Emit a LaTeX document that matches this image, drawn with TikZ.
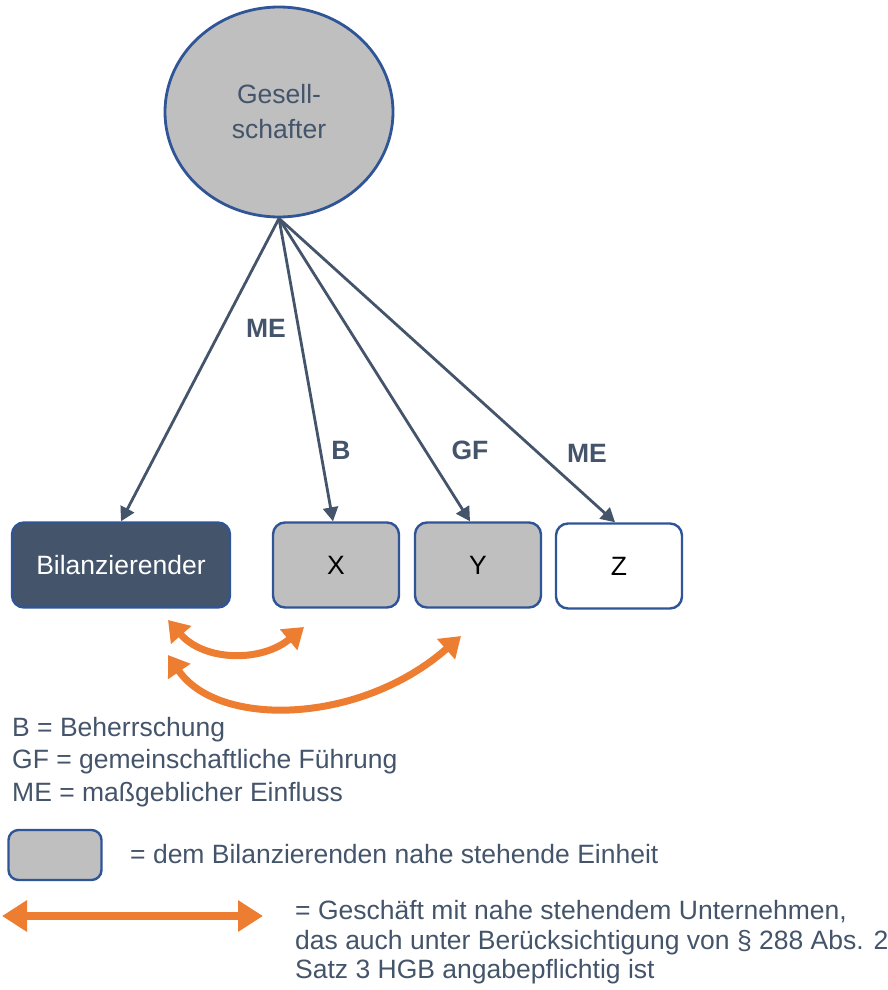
\documentclass[tikz,border=0pt]{standalone}
\usepackage{fontspec}
\setmainfont{Liberation Sans}
\usetikzlibrary{arrows.meta,calc,shapes.geometric}
\definecolor{navy}{HTML}{44546A}
\definecolor{bord}{HTML}{2F5597}
\definecolor{grayfill}{HTML}{BFBFBF}
\definecolor{orng}{HTML}{ED7D31}
\tikzset{
  box/.style={draw=bord, line width=2.4pt, rounded corners=12pt, minimum height=85pt, inner sep=0pt},
  conn/.style={draw=navy, line width=2.8pt, -{Triangle[length=14pt,width=15pt]}},
  lbl/.style={text=navy, font=\fontsize{26.5}{30}\selectfont\bfseries},
  legtxt/.style={text=navy, font=\fontsize{26.5}{30}\selectfont, anchor=west, inner sep=0pt, text height=19pt, text depth=6pt},
  orarrow/.style={draw=orng, line width=7pt, {Triangle[length=20pt,width=26pt]}-{Triangle[length=20pt,width=26pt]}},
}
\begin{document}
\begin{tikzpicture}[x=1pt,y=-1pt]
\useasboundingbox (0,0) rectangle (887,990);
% Gesellschafter
\node[ellipse, draw=bord, line width=2.8pt, fill=grayfill, minimum width=228pt, minimum height=210pt, inner sep=0pt,
      text=navy, font=\fontsize{26.5}{35}\selectfont, align=center] (g) at (279,112) {Gesell-\\schafter};
% boxes
\node[box, fill=navy, text=white, minimum width=218pt, font=\fontsize{26.5}{30}\selectfont] (b) at (121,565) {Bilanzierender};
\node[box, fill=grayfill, text=black, minimum width=126pt, font=\fontsize{26.5}{30}\selectfont] (x) at (336,565) {X};
\node[box, fill=grayfill, text=black, minimum width=126pt, font=\fontsize{26.5}{30}\selectfont] (y) at (478,565) {Y};
\node[box, fill=white, text=black, minimum width=126pt, font=\fontsize{26.5}{30}\selectfont] (z) at (619,566) {Z};
% connectors
\draw[conn] (g.south) -- (b.north);
\draw[conn] (g.south) -- ($(x.north)+(-3,0)$);
\draw[conn] (g.south) -- ($(y.north)+(-8,0)$);
\draw[conn] (g.south) -- ($(z.north)+(-4,0)$);
% labels
\node[lbl] (l1) at (266,328) {ME};
\node[lbl] (l2) at (341,450) {B};
\node[lbl] (l3) at (470,450) {GF};
\node[lbl] (l4) at (587,453) {ME};
% orange arcs
\coordinate (a1s) at (168,620);
\coordinate (a1e) at (304,627);
\coordinate (a2s) at (168,655);
\coordinate (a2e) at (461,636);
\draw[orarrow] (a1s) .. controls (205,662) and (262,662) .. (a1e);
\draw[orarrow] (a2s) .. controls (218,728) and (360,725) .. (a2e);
% legend
\node[legtxt] (t1) at (12,730) {B = Beherrschung};
\node[legtxt] (t2) at (12,762) {GF = gemeinschaftliche Führung};
\node[legtxt] (t3) at (12,795) {ME = maßgeblicher Einfluss};
\node[draw=bord, line width=2.4pt, fill=grayfill, rounded corners=10pt, minimum width=93pt, minimum height=50pt, inner sep=0pt] (lb) at (55,855) {};
\node[legtxt] (t4) at (130,857) {= dem Bilanzierenden nahe stehende Einheit};
\coordinate (ls) at (2,916);
\coordinate (le) at (263,916);
\draw[draw=orng, line width=8pt, {Triangle[length=25pt,width=30pt]}-{Triangle[length=25pt,width=30pt]}] (ls) -- (le);
\node[legtxt] (t5) at (295,913) {= Geschäft mit nahe stehendem Unternehmen,};
\node[legtxt] (t6) at (295,943) {das auch unter Berücksichtigung von § 288 Abs. 2};
\node[legtxt] (t7) at (295,972) {Satz 3 HGB angabepflichtig ist};
\end{tikzpicture}
\end{document}
